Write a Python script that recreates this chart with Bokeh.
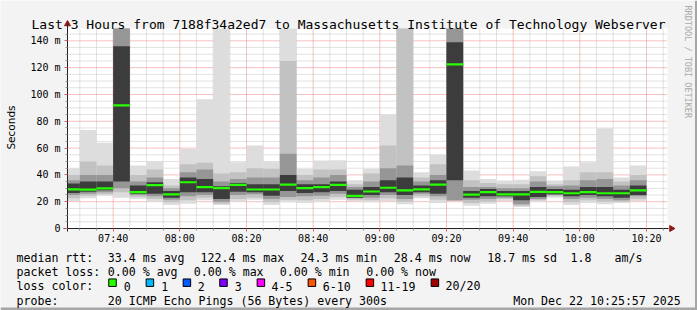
import math
from bokeh.plotting import figure
from bokeh.models import Range1d, FixedTicker, Label, LinearAxis
from bokeh.embed import file_html
from bokeh.resources import INLINE

# ---------------- data ----------------
bar_start = ["07:25", "07:30", "07:35", "07:40", "07:45", "07:50", "07:55",
             "08:00", "08:05", "08:10", "08:15", "08:20", "08:25", "08:30",
             "08:35", "08:40", "08:45", "08:50", "08:55", "09:00", "09:05",
             "09:10", "09:15", "09:20", "09:25", "09:30", "09:35", "09:40",
             "09:45", "09:50", "09:55", "10:00", "10:05", "10:10", "10:15"]
step_minutes = 5

# smoke layers (ms): outermost (min..max) to innermost (core)
ping_min = [20.5, 22.5, 24.5, 23, 22, 20, 17.5, 18.5, 21, 17.5, 20, 21.5, 17.5, 19.5,
            19, 20, 21.5, 20.5, 19.5, 20.5, 18, 22.5, 19, 20.5, 17, 18.5, 20.5, 16,
            20, 23, 17.5, 19, 18, 19, 20.5]
ping_max = [45, 73.5, 64, 170, 47, 50, 37, 59.5, 96.5, 155, 49.5, 62, 50, 160,
            44.5, 50.7, 51, 36, 44.5, 85, 170, 42, 55, 170, 43.3, 37, 35.8, 36.3,
            42.7, 35.8, 46.2, 49.5, 74.8, 38, 47]
ping_q2_lo = [22.5, 24.5, 25.5, 27, 23.5, 22, 19.5, 21, 23, 18.5, 22, 23, 19.5, 21.5,
              21, 22, 23.5, 21.5, 21, 22.5, 20, 24, 21.5, 20.6, 19, 20, 22, 17,
              21, 24, 19.5, 21, 20, 20, 22]
ping_q2_hi = [40, 50, 47, 165, 40, 44, 32, 48, 49, 41, 42, 45, 44.5, 125,
              40, 44, 44, 33, 41, 62, 160, 38, 48, 165, 36, 34, 33, 33,
              39, 33, 36, 42, 42, 35, 40]
ping_q3_lo = [25, 26, 27, 30, 25, 24, 21.5, 24, 25, 20, 25, 25.5, 22, 23.5,
              24, 24.5, 26, 22.5, 23, 25, 22, 26, 24, 21, 21.5, 22, 23, 18,
              22, 25, 22, 23, 22, 21, 24]
ping_q3_hi = [36, 40, 40, 160, 35, 38, 30, 42, 44, 35, 37, 38, 38, 55.7,
              36, 38, 40, 31, 35, 45, 47, 35, 40, 160, 31, 31, 30, 30,
              35, 31.5, 32, 36, 37, 32, 36]
ping_core_lo = [26.5, 27.5, 28.5, 35, 26, 26, 23, 27, 27, 22, 27.5, 27, 24.5, 28,
                26.5, 27, 28, 23, 25, 27, 25, 27, 26, 36, 23, 24, 24, 21,
                23.5, 25.5, 24, 25, 24, 23, 25]
ping_core_hi = [33.5, 35, 35, 136, 32, 34.5, 28, 38, 37, 31.5, 34, 33, 33, 40,
                33, 33, 35, 29, 31, 36, 38, 32, 36, 139, 28, 29.5, 28, 28,
                31, 29.5, 29, 31, 31, 29, 32]
median_rtt = [29.2, 29.0, 30.0, 91.8, 27.1, 32.3, 25.4, 34.5, 30.8, 30.1, 32.5, 29.1,
              29.1, 32.8, 30.1, 30.8, 32.5, 24.3, 27.6, 30.4, 28.4, 29.2, 32.8, 122.4,
              25.3, 27.1, 25.4, 25.4, 27.3, 27.1, 26.3, 27.1, 26.3, 26.3, 28.4]

x_tick_labels = ["07:40", "08:00", "08:20", "08:40", "09:00", "09:20",
                 "09:40", "10:00", "10:20"]
y_tick_values = [0, 20, 40, 60, 80, 100, 120, 140]
y_tick_labels = ["0", "20 m", "40 m", "60 m", "80 m", "100 m", "120 m", "140 m"]

title_text = "Last 3 Hours from 7188f34a2ed7 to Massachusetts Institute of Technology Webserver"
legend_rows = [
    [("median rtt:", 16), ("33.4 ms avg", 107.3), ("122.4 ms max", 200),
     ("24.3 ms min", 300), ("28.4 ms now", 393.3), ("18.7 ms sd", 486.7),
     ("1.8", 570), ("am/s", 614)],
    [("packet loss:", 16), ("0.00 % avg", 107.3), ("0.00 % max", 193.3),
     ("0.00 % min", 279.3), ("0.00 % now", 365.7)],
    [("loss color:", 16)],
    [("probe:", 16), ("20 ICMP Echo Pings (56 Bytes) every 300s", 107.3),
     ("Mon Dec 22 10:25:57 2025", 512.7)],
]
loss_labels = ["0", "1", "2", "3", "4-5", "6-10", "11-19", "20/20"]
loss_colors = ["#26ff00", "#00b8ff", "#0059ff", "#7e00ff", "#ff00ff", "#ff5500", "#ff0000", "#a10000"]
loss_box_x = [108.3, 145.7, 182.7, 219.3, 256.7, 307.7, 365.7, 430.7]
loss_text_x = [123.3, 160.7, 197.3, 234.3, 271, 322.3, 380, 445]

# ---------------- layout ----------------
W, H = 697, 310
FL, FR, FT, FB = 67, 667, 28, 228   # graph area in page pixels


def hm(s):
    h, m = s.split(":")
    return int(h) * 60 + int(m)


X0 = 7 * 60 + 26.3          # left edge of graph (minutes of day)
X1 = X0 + 180               # 3 hours
Y0, Y1 = 0.0, 149.2         # ms


def sx(px):
    return X0 + (px - FL) * (X1 - X0) / (FR - FL)


def sy(py):
    return Y0 + (FB - py) * (Y1 - Y0) / (FB - FT)


MONO = "DejaVu Sans Mono"

# the frame covers the whole page; the graph area is a data-space region inside it
p = figure(width=W, height=H, x_range=Range1d(sx(0), sx(W)), y_range=Range1d(sy(H), sy(0)),
           output_backend="svg", toolbar_location=None, title=None,
           x_axis_location=None, y_axis_location=None,
           min_border=0, min_border_left=0, min_border_right=0,
           min_border_top=0, min_border_bottom=0,
           background_fill_color="#f3f3f3", border_fill_color="#f3f3f3",
           outline_line_color=None)
p.xgrid.visible = False
p.ygrid.visible = False

# white canvas of the graph
bg = p.quad(left=[X0], right=[X1], bottom=[Y0], top=[Y1],
            fill_color="white", line_color=None)
bg.level = "image"

# ---------------- grid (drawn below the smoke) ----------------
x_major = [hm(s) for s in x_tick_labels]
x_minor = [t for t in range(450, 630, 5) if t not in x_major]
y_minor = [v for v in range(5, 150, 5) if v not in y_tick_values]
y_major_grid = [v for v in y_tick_values if v > 0]

p.segment(x0=x_minor, x1=x_minor, y0=[Y0] * len(x_minor), y1=[Y1] * len(x_minor),
          line_color="#c4c4c4", line_dash="1 1", line_width=1)
p.segment(x0=[X0] * len(y_minor), x1=[X1] * len(y_minor), y0=y_minor, y1=y_minor,
          line_color="#c4c4c4", line_dash="1 1", line_width=1)
p.segment(x0=x_major, x1=x_major, y0=[Y0] * len(x_major), y1=[Y1] * len(x_major),
          line_color="#f08080", line_dash="1 1", line_width=1)
p.segment(x0=[X0] * len(y_major_grid), x1=[X1] * len(y_major_grid),
          y0=y_major_grid, y1=y_major_grid,
          line_color="#f08080", line_dash="1 1", line_width=1)

# ---------------- smoke ----------------
starts = [hm(s) for s in bar_start]
ends = [s + step_minutes for s in starts]
lefts = [max(s, X0) for s in starts]


def clip(vals):
    return [min(max(v, Y0), Y1) for v in vals]


layers = [
    (ping_min, ping_max, "#dddddd"),
    (ping_q2_lo, ping_q2_hi, "#c2c2c2"),
    (ping_q3_lo, ping_q3_hi, "#969696"),
    (ping_core_lo, ping_core_hi, "#3c3c3c"),
]
for lo, hi, col in layers:
    p.quad(left=lefts, right=ends, bottom=clip(lo), top=clip(hi),
           fill_color=col, line_color=None)

p.segment(x0=lefts, x1=ends, y0=median_rtt, y1=median_rtt,
          line_color="#26ff00", line_width=2.2)

# ---------------- axes (fixed at the graph's edges) ----------------
xa = LinearAxis(fixed_location=Y0, bounds=(sx(63), sx(668)),
                ticker=FixedTicker(ticks=x_major, minor_ticks=x_minor))
xa.major_label_overrides = {t: l for t, l in zip(x_major, x_tick_labels)}
ya = LinearAxis(fixed_location=X0, bounds=(sy(231), sy(24)),
                ticker=FixedTicker(ticks=y_tick_values, minor_ticks=y_minor))
ya.major_label_overrides = {v: l for v, l in zip(y_tick_values, y_tick_labels)}

for ax in (xa, ya):
    ax.axis_line_color = "#222222"
    ax.major_label_text_font = MONO
    ax.major_label_text_font_size = "10px"
    ax.major_label_text_color = "#000000"
    ax.major_tick_line_color = "#e06060"
    ax.minor_tick_line_color = "#999999"
    ax.major_tick_in = 0
    ax.minor_tick_in = 0
    ax.major_tick_out = 3
    ax.minor_tick_out = 2
xa.major_label_standoff = 1
ya.major_label_standoff = 4
p.add_layout(xa, "below")
p.add_layout(ya, "left")

# axis arrow heads
p.scatter(x=[X0], y=[sy(23.5)], marker="triangle", size=6,
          fill_color="#8b1a1a", line_color="#8b1a1a")
p.scatter(x=[sx(671)], y=[Y0], marker="triangle", size=6, angle=-math.pi / 2,
          fill_color="#8b1a1a", line_color="#8b1a1a")

# page frame (3d edge at right and bottom)
p.quad(left=[sx(694.5)], right=[sx(W)], bottom=[sy(H)], top=[sy(0)],
       fill_color="#a6a6a6", line_color=None)
p.quad(left=[sx(0)], right=[sx(W)], bottom=[sy(H)], top=[sy(307)],
       fill_color="#a6a6a6", line_color=None)


# ---------------- texts ----------------
def add_text(txt, px, py, size="11.6px", font=MONO, align="left",
             baseline="alphabetic", angle=0.0, color="#000000"):
    p.add_layout(Label(x=sx(px), y=sy(py), text=txt, text_align=align,
                       text_baseline=baseline, text_font=font,
                       text_font_size=size, text_color=color, angle=angle))


add_text(title_text, 348, 24, size="13px", align="center")
add_text("Seconds", 10.5, 127, size="10.5px", font="DejaVu Sans", align="center",
         baseline="middle", angle=math.pi / 2)
add_text("RRDTOOL / TOBI OETIKER", 687, 5, size="8.5px", baseline="middle",
         angle=-math.pi / 2, color="#aaaaaa")

row_base = [257.3, 271.5, 285.7, 300.0]
for row, base in zip(legend_rows, row_base):
    for txt, px in row:
        add_text(txt, px, base)

p.scatter(x=[sx(bx + 3.7) for bx in loss_box_x], y=[sy(282.2)] * len(loss_box_x),
          marker="square", size=7.5, fill_color=loss_colors,
          line_color="#000000", line_width=1)
for lbl, tx in zip(loss_labels, loss_text_x):
    add_text(lbl, tx, row_base[2])

open("out.html", "w").write(file_html(p, INLINE))
